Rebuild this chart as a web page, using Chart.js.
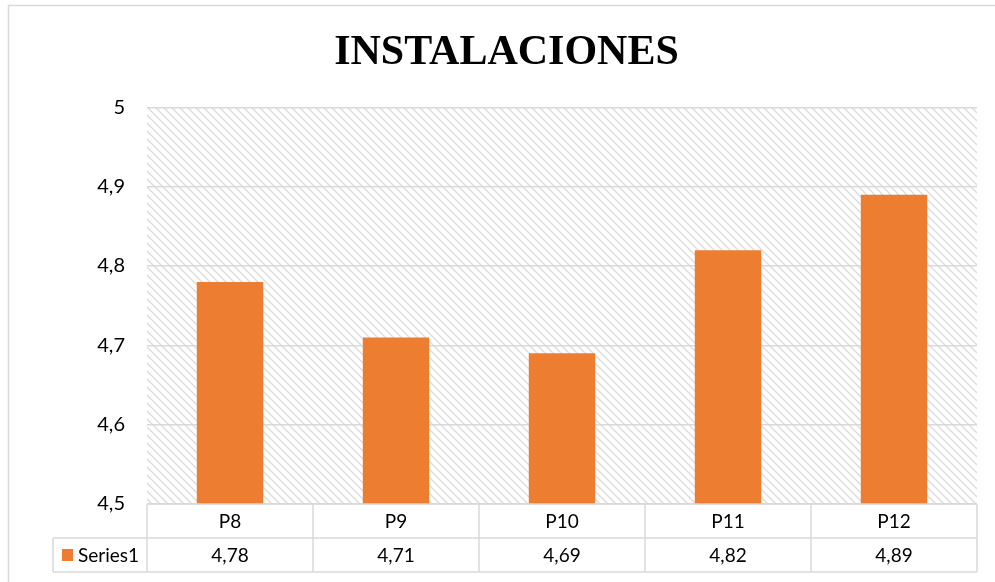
<!DOCTYPE html>
<html>
<head>
<meta charset="utf-8">
<title>INSTALACIONES</title>
<script src="https://cdn.jsdelivr.net/npm/chart.js@4/dist/chart.umd.min.js"></script>
<style>
  html, body { margin: 0; padding: 0; background: #fff; }
  #wrap { width: 995px; height: 582px; position: relative; }
</style>
</head>
<body>
<div id="wrap"><canvas id="c" width="995" height="582"></canvas></div>
<script>
// Chart data
const categories = ['P8', 'P9', 'P10', 'P11', 'P12'];
const seriesName = 'Series1';
const seriesValues = [4.78, 4.71, 4.69, 4.82, 4.89];
const yMin = 4.5;
const yMax = 5;
const yStep = 0.1;

const BAR_COLOR = '#ED7D31';
const LINE_COLOR = '#d9d9d9';
const TEXT_FONT = 'Lato, "Liberation Sans", sans-serif';

const decimalComma = (v, digits) => {
  const r = Number(v.toFixed(digits));
  return (Number.isInteger(r) ? String(r) : r.toFixed(digits).replace(/0+$/, '')).replace('.', ',');
};

// Diagonal hatch used as the plot background
function makeHatch(ctx) {
  const t = document.createElement('canvas');
  t.width = 8; t.height = 8;
  const g = t.getContext('2d');
  g.strokeStyle = '#dcdcdc';
  g.lineWidth = 1.4;
  g.beginPath();
  g.moveTo(-2, -2); g.lineTo(10, 10);
  g.moveTo(-2, 6); g.lineTo(2, 10);
  g.moveTo(6, -2); g.lineTo(10, 2);
  g.stroke();
  return ctx.createPattern(t, 'repeat');
}

const frameAndTable = {
  id: 'frameAndTable',
  beforeDraw(chart) {
    const { ctx, chartArea: a } = chart;
    ctx.save();
    // outer frame
    ctx.strokeStyle = LINE_COLOR;
    ctx.lineWidth = 1.5;
    ctx.beginPath();
    ctx.moveTo(8.5, 600); ctx.lineTo(8.5, 5.5); ctx.lineTo(1000, 5.5);
    ctx.stroke();
    // hatched plot background
    ctx.fillStyle = makeHatch(ctx);
    ctx.fillRect(a.left, a.top, a.right - a.left, a.bottom - a.top);
    ctx.restore();
  },
  afterDraw(chart) {
    const { ctx, chartArea: a } = chart;
    const xs = chart.scales.x;
    const n = categories.length;
    const w = (a.right - a.left) / n;
    const rowH = 34;
    const r0 = a.bottom, r1 = r0 + rowH, r2 = r1 + rowH;
    const legendLeft = 53;
    ctx.save();
    ctx.strokeStyle = LINE_COLOR;
    ctx.lineWidth = 1.5;
    ctx.beginPath();
    // horizontal rules
    ctx.moveTo(a.left, r0); ctx.lineTo(a.right, r0);
    ctx.moveTo(legendLeft, r1); ctx.lineTo(a.right, r1);
    ctx.moveTo(legendLeft, r2); ctx.lineTo(a.right, r2);
    // column separators
    for (let i = 0; i < n; i++) {
      const xl = xs.getPixelForValue(i) - w / 2;
      ctx.moveTo(xl, r0); ctx.lineTo(xl, r2);
    }
    ctx.moveTo(a.right, r0); ctx.lineTo(a.right, r2);
    ctx.moveTo(legendLeft, r1); ctx.lineTo(legendLeft, r2);
    ctx.stroke();

    // legend key and series name
    const midY = (r1 + r2) / 2;
    ctx.fillStyle = BAR_COLOR;
    ctx.fillRect(62, midY - 6, 11, 12);
    ctx.fillStyle = '#000';
    ctx.font = '19px ' + TEXT_FONT;
    ctx.textBaseline = 'middle';
    ctx.textAlign = 'left';
    ctx.fillText(seriesName, 78, midY + 1);

    // values row
    ctx.textAlign = 'center';
    seriesValues.forEach((v, i) => {
      ctx.fillText(decimalComma(v, 2), xs.getPixelForValue(i), midY + 1);
    });
    ctx.restore();
  }
};

new Chart(document.getElementById('c'), {
  type: 'bar',
  data: {
    labels: categories,
    datasets: [{
      label: seriesName,
      data: seriesValues,
      backgroundColor: BAR_COLOR,
      borderWidth: 0,
      barPercentage: 0.4,
      categoryPercentage: 1
    }]
  },
  plugins: [frameAndTable],
  options: {
    responsive: false,
    animation: false,
    events: [],
    layout: { padding: { left: 36, right: 18, top: 5, bottom: 0 } },
    plugins: {
      legend: { display: false },
      tooltip: { enabled: false },
      title: {
        display: true,
        text: 'INSTALACIONES',
        color: '#000',
        font: { family: '"Liberation Serif", "Times New Roman", serif', size: 42, weight: 'bold' },
        padding: { top: 23, bottom: 29 }
      }
    },
    scales: {
      x: {
        grid: { display: false, drawTicks: false },
        border: { display: false },
        ticks: { color: '#000', padding: 6, font: { family: TEXT_FONT, size: 19 } },
        afterFit(s) { s.height = 78; }
      },
      y: {
        min: yMin,
        max: yMax,
        grid: { color: LINE_COLOR, lineWidth: 1.5, drawTicks: false },
        border: { display: false },
        ticks: {
          stepSize: yStep,
          padding: 22,
          color: '#000',
          font: { family: TEXT_FONT, size: 20 },
          callback: (v) => decimalComma(Math.round(v * 10) / 10, 1)
        },
        afterFit(s) { s.width = 111; }
      }
    }
  }
});
</script>
</body>
</html>
